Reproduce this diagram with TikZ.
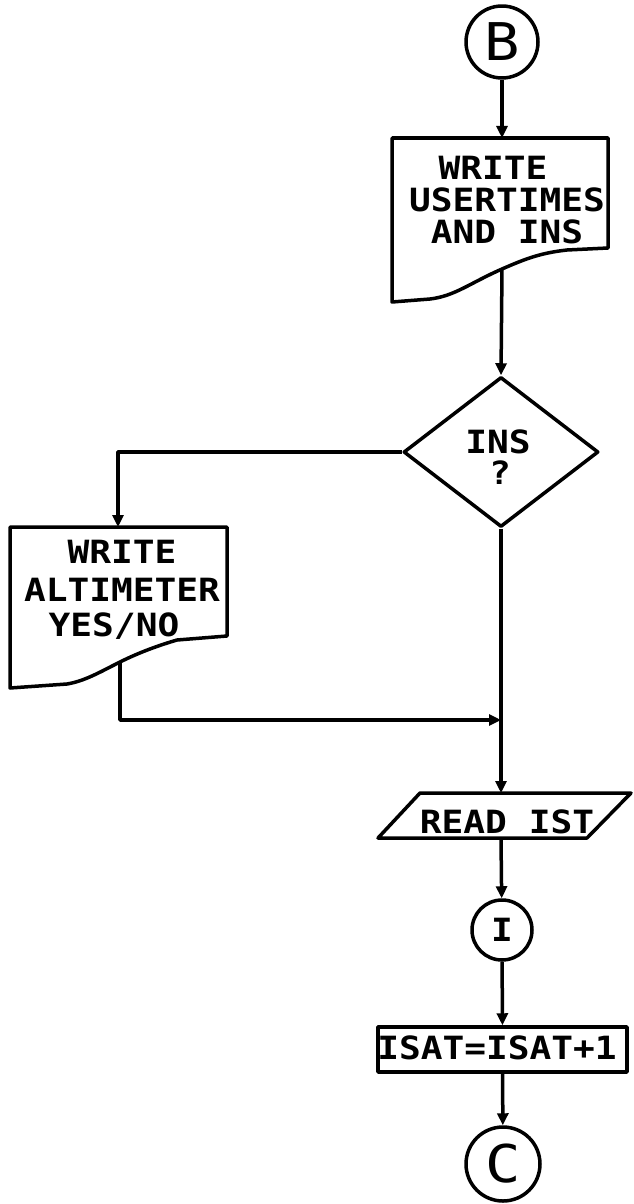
\documentclass[tikz,border=0pt]{standalone}
\usepackage{fontspec}
\usetikzlibrary{arrows.meta,shapes.geometric}
\newfontfamily\plotfont[FakeStretch=1.13]{DejaVu Sans Mono}
\tikzset{
  ln/.style={line width=3.5pt, line join=round},
  arr/.style={ln, -{Triangle[length=12pt,width=11pt]}},
  conn/.style={circle, draw, ln, inner sep=0pt, minimum size=#1, font=\plotfont\fontsize{52}{52}\selectfont},
  txt/.style={anchor=base, inner sep=0pt, font=\plotfont\bfseries\fontsize{32}{32}\selectfont},
}
\begin{document}
\begin{tikzpicture}[x=1pt,y=-1pt]
\useasboundingbox (0,0) rectangle (633,1204);
% connector B
\node[conn=72pt] (B) at (502,42) {B};
% document 1
\coordinate (d1top) at (502,138);
\coordinate (d1out) at (502,269);
\draw[ln] (392,138) -- (608,138) -- (608,248) -- (567,250)
  .. controls (540,253) and (525,259) .. (d1out)
  .. controls (470,283) and (455,296) .. (430,299) -- (392,302) -- cycle;
\node[txt] (t1a) at (493,179.5) {WRITE};
\node[txt] (t1b) at (507,211.5) {USERTIMES};
\node[txt] (t1c) at (507,243.5) {AND INS};
% decision
\node[diamond, draw, ln, minimum width=195pt, minimum height=150pt, inner sep=0pt] (dec) at (501,452) {};
\node[txt] (t2a) at (498,453.5) {INS};
\node[txt] (t2b) at (500,484.5) {?};
% document 2
\coordinate (d2top) at (118,527);
\coordinate (d2out) at (120,662);
\draw[ln] (10,527) -- (227,527) -- (227,636) -- (177,640)
  .. controls (160,645) and (140,652) .. (d2out)
  .. controls (100,672) and (85,681) .. (67,684) -- (10,688) -- cycle;
\node[txt] (t3a) at (122,563.5) {WRITE};
\node[txt] (t3b) at (122,601.5) {ALTIMETER};
\node[txt] (t3c) at (114,636.5) {YES/NO};
\coordinate (join) at (501,720);
% input
\coordinate (p1top) at (501,793);
\coordinate (p1bot) at (501,838);
\draw[ln] (420,793) -- (631,793) -- (587,838) -- (378,838) -- cycle;
\node[txt] (t4) at (507,833.5) {READ IST};
% connector I
\node[circle, draw, ln, inner sep=0pt, minimum size=60pt] (I) at (502,930) {};
\node[txt] (t5) at (502,941.5) {I};
% process
\node[draw, ln, minimum width=249pt, minimum height=45pt, inner sep=0pt] (proc) at (502.5,1049.5) {};
\node[txt] (t6) at (497,1059.5) {ISAT=ISAT+1};
% connector C
\node[conn=74pt] (C) at (503,1164) {C};
% connectors
\draw[arr] (B) -- (d1top);
\draw[arr] (d1out) -- (dec.north);
\draw[arr] (dec.west) -| (d2top);
\draw[arr] (d2out) |- (join);
\draw[arr] (dec.south) -- (p1top);
\draw[arr] (p1bot) -- (I);
\draw[arr] (I) -- (proc);
\draw[arr] (proc) -- (C);
\end{tikzpicture}
\end{document}
